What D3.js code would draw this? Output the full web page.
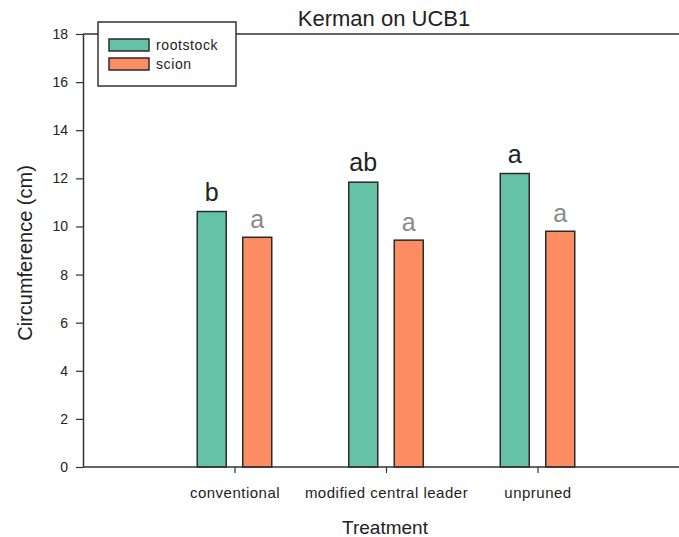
<!DOCTYPE html>
<html>
<head>
<meta charset="utf-8">
<script src="https://cdn.jsdelivr.net/npm/d3@7"></script>
<style>
  body { margin: 0; background: #fff; }
  svg { display: block; font-family: Arial, "Liberation Sans", sans-serif; }
</style>
</head>
<body>
<div id="chart"></div>
<script>
// data
const categories = ['conventional', 'modified central leader', 'unpruned'];
const seriesNames = ['rootstock', 'scion'];
const rootstock = [10.62, 11.84, 12.2];
const scion = [9.55, 9.43, 9.8];
const rootstockLetters = ['b', 'ab', 'a'];
const scionLetters = ['a', 'a', 'a'];
const yTicks = [0, 2, 4, 6, 8, 10, 12, 14, 16, 18];

const W = 679, H = 537;
const plotLeft = 83, plotTop = 34, plotBottom = 467;
const colors = ['#66c2a5', '#fc8d62'];

const svg = d3.select('#chart').append('svg')
    .attr('width', W)
    .attr('height', H);

const y = d3.scaleLinear().domain([0, 18]).range([plotBottom, plotTop]);
// categories sit at 1,2,3 on a 0..4 axis that runs past the right edge
const x = d3.scaleLinear().domain([0, 4]).range([plotLeft, plotLeft + 606]);

const barW = 29, offset = 22.75;

// top frame line runs to the right edge
svg.append('line')
    .attr('x1', plotLeft).attr('x2', W).attr('y1', y(18)).attr('y2', y(18))
    .attr('stroke', '#333').attr('stroke-width', 1.5);

// bars
const groups = [rootstock, scion];
groups.forEach((vals, s) => {
  svg.selectAll('rect.s' + s)
    .data(vals)
    .enter().append('rect')
      .attr('class', 's' + s)
      .attr('x', (d, i) => x(i + 1) + (s === 0 ? -offset : offset) - barW / 2)
      .attr('y', d => y(d))
      .attr('width', barW)
      .attr('height', d => y(0) - y(d))
      .attr('fill', colors[s])
      .attr('stroke', '#2b2b2b')
      .attr('stroke-width', 1.5);
});

// significance letters
svg.selectAll('text.lr')
  .data(rootstock)
  .enter().append('text')
    .attr('x', (d, i) => x(i + 1) - offset)
    .attr('y', d => y(d) - 11)
    .attr('text-anchor', 'middle')
    .attr('font-size', 25)
    .attr('fill', '#222')
    .text((d, i) => rootstockLetters[i]);

svg.selectAll('text.ls')
  .data(scion)
  .enter().append('text')
    .attr('x', (d, i) => x(i + 1) + offset)
    .attr('y', d => y(d) - 9)
    .attr('text-anchor', 'middle')
    .attr('font-size', 25)
    .attr('fill', '#8a8a8a')
    .text((d, i) => scionLetters[i]);

// y axis
const yAxis = svg.append('g')
    .attr('transform', `translate(${plotLeft},0)`)
    .call(d3.axisLeft(y).tickValues(yTicks).tickSize(7).tickPadding(8).tickSizeOuter(0));
yAxis.select('.domain').attr('stroke', '#333').attr('stroke-width', 1.5);
yAxis.selectAll('.tick line').attr('stroke', '#333').attr('stroke-width', 1.2);
yAxis.selectAll('.tick text').attr('font-size', 14).attr('fill', '#222')
    .attr('font-family', 'Arial, "Liberation Sans", sans-serif');

// x axis
const xAxis = svg.append('g')
    .attr('transform', `translate(0,${plotBottom})`)
    .call(d3.axisBottom(x).tickValues([1, 2, 3]).tickSize(6).tickPadding(14).tickSizeOuter(0)
      .tickFormat(d => categories[d - 1]));
xAxis.select('.domain').attr('d', `M${plotLeft},0H${W}`).attr('stroke', '#333').attr('stroke-width', 1.5);
xAxis.selectAll('.tick line').attr('stroke', '#333').attr('stroke-width', 1.2);
xAxis.selectAll('.tick text').attr('font-size', 15).attr('fill', '#222')
    .attr('letter-spacing', 0.5)
    .attr('font-family', 'Arial, "Liberation Sans", sans-serif');

// title
svg.append('text')
    .attr('x', 384).attr('y', 26)
    .attr('text-anchor', 'middle')
    .attr('font-size', 22)
    .attr('fill', '#222')
    .text('Kerman on UCB1');

// axis titles
svg.append('text')
    .attr('x', 385).attr('y', 534)
    .attr('text-anchor', 'middle')
    .attr('font-size', 19)
    .attr('fill', '#222')
    .text('Treatment');

svg.append('text')
    .attr('transform', `translate(32,253) rotate(-90)`)
    .attr('text-anchor', 'middle')
    .attr('font-size', 20)
    .attr('fill', '#222')
    .text('Circumference (cm)');

// legend
const legend = svg.append('g').attr('transform', 'translate(98,22)');
legend.append('rect')
    .attr('width', 138).attr('height', 64)
    .attr('fill', '#fff').attr('stroke', '#333').attr('stroke-width', 1.5);
seriesNames.forEach((name, i) => {
  legend.append('rect')
      .attr('x', 11).attr('y', 17 + i * 19)
      .attr('width', 40).attr('height', 12)
      .attr('fill', colors[i]).attr('stroke', '#2b2b2b').attr('stroke-width', 1.5);
  legend.append('text')
      .attr('x', 58).attr('y', 28 + i * 19)
      .attr('font-size', 14)
      .attr('letter-spacing', 0.6)
      .attr('fill', '#222')
      .text(name);
});
</script>
</body>
</html>
